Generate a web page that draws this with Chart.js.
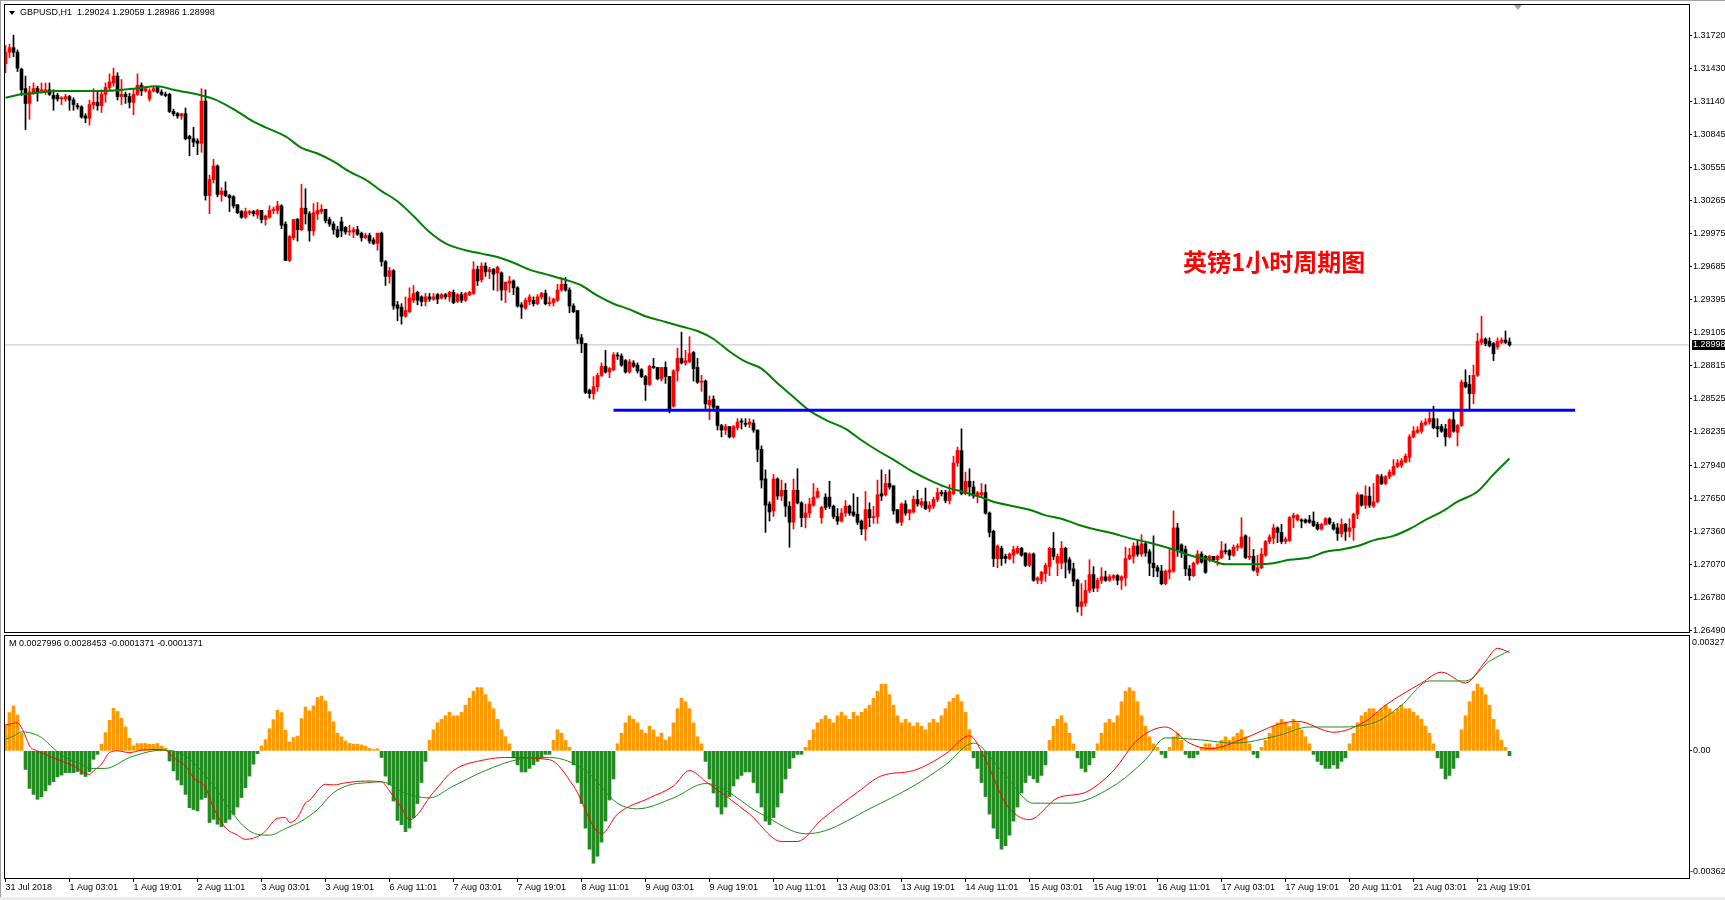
<!DOCTYPE html>
<html>
<head>
<meta charset="utf-8">
<title>GBPUSD,H1</title>
<script src="https://cdn.jsdelivr.net/npm/chart.js@4.4.1/dist/chart.umd.min.js"></script>
<style>
  html, body { margin: 0; padding: 0; background: #fff; }
  body { position: relative; width: 1725px; height: 900px; overflow: hidden; font-family: "Liberation Sans", Arial, sans-serif; }
  canvas { position: absolute; left: 0; }
  #priceChart { top: 0; }
  #macdChart { top: 634px; }
  .label { position: absolute; font-size: 9px; line-height: 11px; color: #000; white-space: pre; }
  #symbol { left: 20px; top: 7px; }
  #macdTitle { left: 9px; top: 638px; }
  #note { position: absolute; left: 1183px; top: 249px; font-family: "Noto Sans CJK SC", sans-serif; font-weight: bold; font-size: 24px; line-height: 24px; color: #ff0000; white-space: nowrap; }
  #menuArrow { position: absolute; left: 9px; top: 11px; width: 0; height: 0; border-left: 3px solid transparent; border-right: 3px solid transparent; border-top: 4px solid #000; }
  #shiftMark { position: absolute; left: 1514px; top: 5px; width: 0; height: 0; border-left: 4px solid transparent; border-right: 4px solid transparent; border-top: 5px solid #a0a0a0; }
  #edgeLeft { position: absolute; left: 0; top: 0; width: 1px; height: 900px; background: #a0a0a0; }
  #edgeTop { position: absolute; left: 0; top: 0; width: 1725px; height: 1px; background: #a0a0a0; }
  #edgeBottom { position: absolute; left: 0; top: 897px; width: 1725px; height: 3px; background: #ececec; }
</style>
</head>
<body>
<canvas id="priceChart" width="1725" height="634"></canvas>
<canvas id="macdChart" width="1725" height="266"></canvas>
<div id="edgeLeft"></div>
<div id="edgeTop"></div>
<div id="edgeBottom"></div>
<div id="menuArrow"></div>
<div id="shiftMark"></div>
<div class="label" id="symbol"></div>
<div class="label" id="macdTitle">M 0.0027996 0.0028453 -0.0001371 -0.0001371</div>
<div id="note">英镑1小时周期图</div>
<script>
// GBPUSD H1 candles, 31 Jul 2018 11:00 onwards, one entry per hour
const opens = [
  1.3147,1.3157,1.3161,1.3157,1.3142,1.3125,1.3112,1.3121,1.3125,1.3123,
  1.3123,1.3124,1.3119,1.3119,1.3116,1.3116,1.3118,1.3115,1.3110,1.3109,
  1.3101,1.3099,1.3111,1.3113,1.3110,1.3120,1.3126,1.3130,1.3136,1.3118,
  1.3120,1.3118,1.3113,1.3120,1.3128,1.3123,1.3116,1.3123,1.3126,1.3122,
  1.3120,1.3120,1.3105,1.3103,1.3101,1.3103,1.3083,1.3081,1.3079,1.3077,
  1.3114,1.3031,1.3045,1.3057,1.3032,1.3035,1.3031,1.3030,1.3023,1.3017,
  1.3012,1.3016,1.3017,1.3014,1.3018,1.3010,1.3012,1.3018,1.3018,1.3022,
  1.3006,1.2974,1.2994,1.3010,1.3001,1.3020,1.3015,1.3000,1.3015,1.3017,
  1.3019,1.3010,1.3006,1.3001,1.3008,1.3003,1.2999,1.2999,1.3001,1.2998,
  1.2994,1.2996,1.2992,1.2989,1.2998,1.2973,1.2960,1.2965,1.2935,1.2933,
  1.2925,1.2929,1.2939,1.2946,1.2942,1.2938,1.2942,1.2940,1.2944,1.2941,
  1.2944,1.2942,1.2946,1.2938,1.2944,1.2939,1.2944,1.2945,1.2966,1.2957,
  1.2969,1.2964,1.2966,1.2963,1.2963,1.2948,1.2954,1.2956,1.2950,1.2935,
  1.2932,1.2938,1.2939,1.2936,1.2942,1.2945,1.2936,1.2937,1.2939,1.2948,
  1.2953,1.2948,1.2934,1.2930,1.2906,1.2901,1.2860,1.2857,1.2863,1.2873,
  1.2881,1.2876,1.2878,1.2891,1.2890,1.2886,1.2876,1.2884,1.2882,1.2878,
  1.2872,1.2865,1.2881,1.2880,1.2870,1.2880,1.2872,1.2846,1.2877,1.2888,
  1.2884,1.2885,1.2893,1.2880,1.2867,1.2868,1.2847,1.2852,1.2846,1.2829,
  1.2825,1.2828,1.2819,1.2827,1.2833,1.2831,1.2830,1.2831,1.2825,1.2808,
  1.2782,1.2760,1.2754,1.2782,1.2767,1.2772,1.2758,1.2744,1.2772,1.2761,
  1.2748,1.2752,1.2759,1.2766,1.2748,1.2766,1.2766,1.2758,1.2749,1.2745,
  1.2752,1.2758,1.2753,1.2751,1.2745,1.2738,1.2755,1.2748,1.2749,1.2769,
  1.2768,1.2778,1.2776,1.2755,1.2744,1.2760,1.2752,1.2753,1.2764,1.2759,
  1.2762,1.2756,1.2758,1.2764,1.2770,1.2770,1.2763,1.2769,1.2796,1.2807,
  1.2769,1.2780,1.2775,1.2767,1.2768,1.2770,1.2752,1.2736,1.2712,1.2721,
  1.2714,1.2712,1.2715,1.2717,1.2721,1.2717,1.2706,1.2716,1.2693,1.2693,
  1.2699,1.2705,1.2721,1.2708,1.2708,1.2721,1.2711,1.2703,1.2693,1.2670,
  1.2673,1.2684,1.2698,1.2686,1.2693,1.2696,1.2693,1.2695,1.2697,1.2693,
  1.2695,1.2712,1.2714,1.2723,1.2716,1.2725,1.2718,1.2708,1.2704,1.2701,
  1.2690,1.2700,1.2701,1.2739,1.2724,1.2720,1.2703,1.2697,1.2708,1.2716,
  1.2714,1.2711,1.2714,1.2711,1.2713,1.2719,1.2719,1.2715,1.2722,1.2722,
  1.2732,1.2713,1.2714,1.2700,1.2704,1.2715,1.2727,1.2730,1.2739,1.2735,
  1.2727,1.2728,1.2748,1.2746,1.2746,1.2746,1.2746,1.2745,1.2742,1.2738,
  1.2742,1.2747,1.2742,1.2739,1.2734,1.2742,1.2736,1.2739,1.2751,1.2768,
  1.2759,1.2767,1.2758,1.2762,1.2784,1.2778,1.2784,1.2786,1.2793,1.2794,
  1.2797,1.2801,1.2819,1.2823,1.2824,1.2830,1.2832,1.2835,1.2828,1.2828,
  1.2826,1.2819,1.2834,1.2823,1.2829,1.2867,1.2865,1.2857,1.2873,1.2902,
  1.2905,1.2903,1.2901,1.2898,1.2902,1.2904,1.29024
];
const highs = [
  1.3163,1.3164,1.3172,1.3159,1.3143,1.3136,1.3127,1.3130,1.3127,1.3130,
  1.3130,1.3130,1.3124,1.3121,1.3118,1.3120,1.3119,1.3117,1.3112,1.3110,
  1.3103,1.3115,1.3125,1.3122,1.3124,1.3130,1.3138,1.3143,1.3139,1.3133,
  1.3122,1.3121,1.3125,1.3138,1.3130,1.3127,1.3125,1.3127,1.3127,1.3124,
  1.3122,1.3121,1.3107,1.3104,1.3103,1.3108,1.3084,1.3091,1.3081,1.3125,
  1.3124,1.3049,1.3063,1.3058,1.3038,1.3043,1.3032,1.3031,1.3023,1.3018,
  1.3020,1.3018,1.3018,1.3019,1.3018,1.3014,1.3022,1.3021,1.3026,1.3023,
  1.3008,1.2996,1.3010,1.3011,1.3041,1.3037,1.3017,1.3024,1.3025,1.3023,
  1.3019,1.3012,1.3008,1.3004,1.3012,1.3004,1.3005,1.3003,1.3004,1.2999,
  1.2998,1.2998,1.2994,1.2998,1.2999,1.2974,1.2968,1.2966,1.2938,1.2936,
  1.2942,1.2950,1.2952,1.2947,1.2943,1.2945,1.2945,1.2945,1.2945,1.2945,
  1.2945,1.2947,1.2948,1.2945,1.2946,1.2946,1.2947,1.2973,1.2969,1.2972,
  1.2972,1.2968,1.2967,1.2969,1.2964,1.2955,1.2960,1.2957,1.2951,1.2937,
  1.2941,1.2944,1.2942,1.2944,1.2946,1.2948,1.2942,1.2941,1.2953,1.2959,
  1.2959,1.2950,1.2936,1.2930,1.2909,1.2901,1.2861,1.2872,1.2875,1.2884,
  1.2895,1.2880,1.2893,1.2893,1.2892,1.2887,1.2887,1.2886,1.2884,1.2879,
  1.2873,1.2882,1.2888,1.2880,1.2880,1.2885,1.2872,1.2878,1.2897,1.2911,
  1.2895,1.2907,1.2894,1.2888,1.2873,1.2869,1.2855,1.2855,1.2846,1.2830,
  1.2830,1.2828,1.2829,1.2835,1.2835,1.2835,1.2835,1.2834,1.2825,1.2811,
  1.2790,1.2762,1.2786,1.2783,1.2781,1.2778,1.2762,1.2782,1.2791,1.2762,
  1.2760,1.2765,1.2778,1.2774,1.2758,1.2769,1.2780,1.2759,1.2756,1.2756,
  1.2763,1.2759,1.2769,1.2766,1.2746,1.2771,1.2761,1.2758,1.2781,1.2790,
  1.2786,1.2790,1.2776,1.2755,1.2761,1.2763,1.2755,1.2767,1.2772,1.2765,
  1.2774,1.2762,1.2766,1.2774,1.2772,1.2772,1.2777,1.2802,1.2810,1.2826,
  1.2788,1.2791,1.2780,1.2771,1.2778,1.2777,1.2753,1.2737,1.2724,1.2723,
  1.2716,1.2717,1.2723,1.2723,1.2722,1.2717,1.2717,1.2717,1.2696,1.2701,
  1.2708,1.2722,1.2735,1.2716,1.2727,1.2722,1.2713,1.2708,1.2694,1.2690,
  1.2693,1.2711,1.2705,1.2695,1.2704,1.2701,1.2698,1.2698,1.2698,1.2697,
  1.2722,1.2721,1.2726,1.2728,1.2733,1.2727,1.2720,1.2732,1.2706,1.2706,
  1.2702,1.2720,1.2754,1.2743,1.2725,1.2723,1.2706,1.2709,1.2719,1.2718,
  1.2715,1.2715,1.2714,1.2715,1.2727,1.2725,1.2720,1.2724,1.2725,1.2748,
  1.2733,1.2731,1.2720,1.2715,1.2721,1.2728,1.2733,1.2742,1.2740,1.2742,
  1.2731,1.2749,1.2752,1.2751,1.2747,1.2747,1.2750,1.2753,1.2744,1.2743,
  1.2748,1.2748,1.2744,1.2743,1.2747,1.2743,1.2747,1.2752,1.2770,1.2768,
  1.2776,1.2775,1.2778,1.2786,1.2786,1.2785,1.2790,1.2799,1.2799,1.2800,
  1.2804,1.2821,1.2828,1.2828,1.2833,1.2835,1.2841,1.2846,1.2835,1.2830,
  1.2830,1.2835,1.2843,1.2830,1.2869,1.2878,1.2873,1.2882,1.2910,1.2925,
  1.2906,1.2906,1.2902,1.2906,1.2906,1.2912,1.29059
];
const lows = [
  1.3139,1.3152,1.3153,1.3140,1.3119,1.3089,1.3098,1.3120,1.3114,1.3121,
  1.3120,1.3119,1.3106,1.3114,1.3111,1.3114,1.3106,1.3106,1.3107,1.3099,
  1.3095,1.3093,1.3107,1.3106,1.3104,1.3113,1.3124,1.3127,1.3115,1.3111,
  1.3112,1.3108,1.3102,1.3119,1.3119,1.3122,1.3114,1.3122,1.3121,1.3119,
  1.3118,1.3104,1.3101,1.3099,1.3098,1.3080,1.3066,1.3074,1.3067,1.3069,
  1.3027,1.3015,1.3042,1.3030,1.3026,1.3030,1.3017,1.3020,1.3015,1.3011,
  1.3011,1.3014,1.3013,1.3011,1.3007,1.3005,1.3011,1.3015,1.3015,1.3002,
  1.2974,1.2973,1.2992,1.2991,1.3000,1.3006,1.2991,1.2996,1.3010,1.3015,
  1.3007,1.3004,1.2997,1.2994,1.2995,1.2997,1.2996,1.2994,1.2996,1.2991,
  1.2993,1.2989,1.2988,1.2983,1.2969,1.2952,1.2954,1.2931,1.2921,1.2918,
  1.2924,1.2928,1.2937,1.2935,1.2934,1.2934,1.2938,1.2939,1.2936,1.2940,
  1.2940,1.2938,1.2936,1.2937,1.2937,1.2938,1.2943,1.2944,1.2952,1.2955,
  1.2960,1.2958,1.2948,1.2947,1.2939,1.2937,1.2946,1.2944,1.2933,1.2923,
  1.2931,1.2935,1.2934,1.2935,1.2940,1.2935,1.2934,1.2934,1.2938,1.2947,
  1.2947,1.2928,1.2928,1.2901,1.2893,1.2857,1.2853,1.2852,1.2859,1.2872,
  1.2875,1.2871,1.2877,1.2887,1.2881,1.2875,1.2875,1.2880,1.2875,1.2871,
  1.2851,1.2864,1.2879,1.2869,1.2868,1.2866,1.2840,1.2845,1.2868,1.2883,
  1.2882,1.2884,1.2868,1.2866,1.2859,1.2843,1.2834,1.2842,1.2825,1.2819,
  1.2821,1.2818,1.2818,1.2825,1.2826,1.2828,1.2827,1.2823,1.2797,1.2774,
  1.2735,1.2745,1.2749,1.2764,1.2763,1.2749,1.2722,1.2738,1.2760,1.2740,
  1.2739,1.2748,1.2758,1.2765,1.2743,1.2755,1.2756,1.2747,1.2742,1.2744,
  1.2749,1.2750,1.2749,1.2742,1.2733,1.2728,1.2740,1.2743,1.2743,1.2763,
  1.2767,1.2773,1.2751,1.2743,1.2741,1.2750,1.2746,1.2752,1.2758,1.2757,
  1.2755,1.2753,1.2756,1.2762,1.2767,1.2761,1.2760,1.2768,1.2793,1.2768,
  1.2768,1.2767,1.2765,1.2761,1.2766,1.2751,1.2731,1.2705,1.2704,1.2706,
  1.2708,1.2711,1.2708,1.2716,1.2714,1.2705,1.2705,1.2692,1.2690,1.2690,
  1.2692,1.2697,1.2711,1.2697,1.2703,1.2695,1.2699,1.2688,1.2665,1.2662,
  1.2670,1.2682,1.2683,1.2683,1.2690,1.2692,1.2692,1.2693,1.2689,1.2685,
  1.2688,1.2711,1.2708,1.2714,1.2714,1.2714,1.2697,1.2696,1.2696,1.2689,
  1.2689,1.2694,1.2700,1.2714,1.2713,1.2697,1.2693,1.2696,1.2707,1.2708,
  1.2699,1.2709,1.2710,1.2706,1.2712,1.2716,1.2711,1.2714,1.2719,1.2721,
  1.2712,1.2711,1.2701,1.2697,1.2703,1.2714,1.2725,1.2725,1.2726,1.2725,
  1.2725,1.2727,1.2739,1.2745,1.2739,1.2743,1.2743,1.2740,1.2737,1.2737,
  1.2742,1.2742,1.2737,1.2728,1.2731,1.2728,1.2731,1.2728,1.2747,1.2758,
  1.2756,1.2757,1.2757,1.2761,1.2777,1.2777,1.2782,1.2785,1.2792,1.2792,
  1.2796,1.2797,1.2818,1.2822,1.2822,1.2829,1.2830,1.2826,1.2819,1.2823,
  1.2811,1.2818,1.2823,1.2811,1.2828,1.2862,1.2843,1.2848,1.2872,1.2900,
  1.2899,1.2898,1.2886,1.2896,1.2901,1.2901,1.28986
];
const closes = [
  1.3157,1.3161,1.3157,1.3143,1.3124,1.3112,1.3122,1.3125,1.3122,1.3124,
  1.3124,1.3120,1.3116,1.3116,1.3117,1.3118,1.3115,1.3111,1.3109,1.3100,
  1.3099,1.3111,1.3113,1.3110,1.3120,1.3126,1.3131,1.3136,1.3118,1.3120,
  1.3118,1.3113,1.3120,1.3128,1.3123,1.3125,1.3123,1.3125,1.3122,1.3120,
  1.3119,1.3105,1.3103,1.3101,1.3103,1.3081,1.3081,1.3078,1.3077,1.3114,
  1.3031,1.3045,1.3057,1.3032,1.3035,1.3031,1.3029,1.3022,1.3016,1.3012,
  1.3017,1.3017,1.3015,1.3018,1.3010,1.3013,1.3018,1.3019,1.3022,1.3005,
  1.2974,1.2995,1.3010,1.3001,1.3020,1.3015,1.3000,1.3016,1.3018,1.3019,
  1.3009,1.3006,1.3001,1.2995,1.3000,1.2999,1.3000,1.3001,1.2997,1.2994,
  1.2996,1.2991,1.2989,1.2998,1.2973,1.2960,1.2965,1.2934,1.2932,1.2925,
  1.2930,1.2941,1.2945,1.2939,1.2938,1.2942,1.2940,1.2942,1.2940,1.2944,
  1.2942,1.2946,1.2937,1.2944,1.2939,1.2945,1.2946,1.2966,1.2956,1.2969,
  1.2964,1.2966,1.2962,1.2968,1.2948,1.2955,1.2956,1.2950,1.2934,1.2933,
  1.2939,1.2942,1.2936,1.2942,1.2945,1.2936,1.2937,1.2940,1.2948,1.2953,
  1.2948,1.2934,1.2929,1.2905,1.2901,1.2858,1.2857,1.2863,1.2873,1.2881,
  1.2876,1.2879,1.2891,1.2890,1.2882,1.2876,1.2885,1.2881,1.2877,1.2872,
  1.2865,1.2881,1.2880,1.2870,1.2880,1.2872,1.2843,1.2877,1.2888,1.2884,
  1.2886,1.2892,1.2879,1.2867,1.2868,1.2848,1.2851,1.2845,1.2829,1.2825,
  1.2828,1.2819,1.2828,1.2832,1.2832,1.2830,1.2832,1.2825,1.2808,1.2781,
  1.2759,1.2753,1.2782,1.2767,1.2772,1.2758,1.2744,1.2772,1.2761,1.2748,
  1.2752,1.2760,1.2766,1.2771,1.2757,1.2757,1.2758,1.2749,1.2745,1.2752,
  1.2758,1.2752,1.2750,1.2744,1.2738,1.2755,1.2748,1.2749,1.2768,1.2767,
  1.2778,1.2775,1.2754,1.2744,1.2760,1.2752,1.2755,1.2764,1.2760,1.2762,
  1.2756,1.2759,1.2764,1.2770,1.2769,1.2763,1.2771,1.2796,1.2807,1.2769,
  1.2780,1.2775,1.2767,1.2770,1.2770,1.2752,1.2735,1.2712,1.2723,1.2712,
  1.2712,1.2716,1.2720,1.2721,1.2715,1.2706,1.2716,1.2693,1.2695,1.2700,
  1.2706,1.2721,1.2714,1.2714,1.2721,1.2709,1.2702,1.2692,1.2670,1.2674,
  1.2684,1.2698,1.2686,1.2693,1.2696,1.2693,1.2696,1.2697,1.2693,1.2696,
  1.2712,1.2715,1.2723,1.2716,1.2725,1.2717,1.2708,1.2704,1.2701,1.2690,
  1.2701,1.2702,1.2739,1.2720,1.2717,1.2703,1.2697,1.2708,1.2716,1.2709,
  1.2700,1.2714,1.2711,1.2714,1.2719,1.2718,1.2715,1.2722,1.2723,1.2731,
  1.2713,1.2714,1.2702,1.2704,1.2716,1.2727,1.2731,1.2739,1.2735,1.2727,
  1.2729,1.2748,1.2750,1.2750,1.2745,1.2744,1.2744,1.2741,1.2738,1.2742,
  1.2747,1.2743,1.2738,1.2734,1.2742,1.2736,1.2739,1.2751,1.2768,1.2759,
  1.2767,1.2759,1.2762,1.2785,1.2778,1.2784,1.2788,1.2793,1.2796,1.2798,
  1.2802,1.2819,1.2824,1.2825,1.2831,1.2832,1.2835,1.2827,1.2826,1.2824,
  1.2819,1.2834,1.2824,1.2829,1.2867,1.2863,1.2857,1.2873,1.2903,1.2905,
  1.2901,1.2899,1.2892,1.2903,1.2904,1.2902,1.28998
];

// moving average (green), read at these bars
const maBars = [0,4,7,13,24,32,38,42,45,49, 52,57,62,65,70,74,78,82,86,90,
  94,98,102,106,110,115,119,123,127,131, 135,140,144,148,152,156,160,165,169,173,
  177,181,185,189,193,197,201,205,210,214, 218,222,226,231,235,239,243,247,252,256,
  260,264,268,272,277,281,286,292,296,301, 305,309,313,317,321,326,330,334,338,342,
  347,351,355,359,363,368,372,376];
const maValues = [1.3117,1.3120,1.3121,1.3123,1.3123,1.3125,1.3127,1.3124,1.3122,1.3119,
  1.3116,1.3107,1.3096,1.3091,1.3083,1.3073,1.3068,1.3061,1.3052,1.3045,
  1.3035,1.3026,1.3013,1.2999,1.2989,1.2983,1.2980,1.2977,1.2972,1.2966,
  1.2962,1.2957,1.2952,1.2943,1.2936,1.2931,1.2925,1.2920,1.2916,1.2912,
  1.2905,1.2894,1.2885,1.2879,1.2866,1.2854,1.2842,1.2834,1.2826,1.2816,
  1.2807,1.2799,1.2790,1.2781,1.2775,1.2771,1.2767,1.2762,1.2758,1.2755,
  1.2750,1.2747,1.2742,1.2738,1.2734,1.2730,1.2726,1.2720,1.2715,1.2711,
  1.2707,1.2707,1.2707,1.2708,1.2711,1.2713,1.2718,1.2720,1.2723,1.2728,
  1.2732,1.2738,1.2746,1.2753,1.2762,1.2771,1.2786,1.2800];

// blue horizontal level
const levelPrice = 1.28424;
const levelFromBar = 152;
const levelToBar = 392.4;

// MACD histogram, one value per bar
const macdHist = [
  0.00074,0.00109,0.00128,0.00102,0.0005,-0.00053,-0.00107,-0.00124,-0.00138,-0.00131,
  -0.00114,-0.00097,-0.00088,-0.00074,-0.00069,-0.00062,-0.00062,-0.00062,-0.00059,-0.00067,
  -0.00073,-0.00059,-0.00024,-0.0001,0.00019,0.00052,0.00087,0.00121,0.00112,0.00093,
  0.00068,0.00036,0.00014,0.00021,0.00021,0.00021,0.00019,0.00019,0.00021,0.00014,
  0.00007,-0.00029,-0.00057,-0.00083,-0.00097,-0.00124,-0.00162,-0.00167,-0.00171,-0.00138,
  -0.00133,-0.00204,-0.00195,-0.00209,-0.00216,-0.00204,-0.00195,-0.00181,-0.0016,-0.00133,
  -0.00105,-0.00072,-0.00038,-0.00008,0.00014,0.00032,0.00063,0.00089,0.00116,0.00109,
  0.00059,0.00025,0.00038,0.00042,0.00092,0.00125,0.00114,0.00128,0.00152,0.00156,
  0.00142,0.00112,0.00083,0.0005,0.0004,0.00028,0.00021,0.00019,0.00019,0.00017,
  0.00013,0.00007,0.00004,0.00006,-0.00019,-0.00072,-0.00097,-0.00143,-0.00198,-0.0021,
  -0.0023,-0.0022,-0.0019,-0.0015,-0.0009,-0.0003,0.0003,0.0006,0.0008,0.0009,
  0.001,0.0011,0.001,0.001,0.0011,0.0013,0.0015,0.0017,0.0018,0.0018,
  0.0016,0.0014,0.0012,0.0009,0.0006,0.0004,0.0002,-0.0002,-0.0004,-0.0006,
  -0.0006,-0.0005,-0.0004,-0.0003,-0.0002,-0.0001,-0.0001,0.0003,0.0006,0.0005,
  0.0003,0.0001,-0.0004,-0.0009,-0.0015,-0.0022,-0.0028,-0.0032,-0.003,-0.0026,
  -0.002,-0.0014,-0.0008,0.0002,0.0005,0.0008,0.001,0.0009,0.0008,0.0006,
  0.0005,0.0007,0.0006,0.0004,0.0005,0.0003,0.0004,0.0008,0.0012,0.0015,
  0.0014,0.0012,0.0008,0.0004,0.0002,-0.0003,-0.0008,-0.0012,-0.0016,-0.0018,
  -0.0016,-0.0013,-0.001,-0.0008,-0.0007,-0.0006,-0.0006,-0.0009,-0.0012,-0.0016,
  -0.002,-0.0021,-0.0019,-0.0016,-0.0012,-0.0008,-0.0005,-0.0002,-0.0001,-0.0001,
  0.0001,0.0003,0.0006,0.0008,0.0009,0.001,0.0009,0.0008,0.001,0.0011,
  0.001,0.0009,0.0011,0.001,0.0011,0.0012,0.0013,0.0015,0.0017,0.0019,
  0.0019,0.0016,0.0013,0.001,0.0008,0.0009,0.0008,0.0007,0.0008,0.0007,
  0.0006,0.0008,0.0009,0.0008,0.001,0.0012,0.0014,0.0015,0.0016,0.0014,
  0.0011,0.0006,-0.0002,-0.0005,-0.0009,-0.0013,-0.0018,-0.0022,-0.0025,-0.0028,
  -0.0027,-0.0024,-0.002,-0.0016,-0.0012,-0.0009,-0.0007,-0.0008,-0.0009,-0.0007,
  -0.0004,0.0003,0.0007,0.0009,0.001,0.0008,0.0005,0.0002,-0.0002,-0.0005,
  -0.0006,-0.0004,-0.0002,0.0002,0.0005,0.0008,0.0009,0.0008,0.001,0.0014,
  0.0017,0.0018,0.0017,0.0014,0.001,0.0007,0.0004,0.0002,0.0001,-0.0001,
  -0.0002,0.0001,0.0004,0.0005,0.0003,-0.0001,-0.0002,-0.0002,-0.0001,0.0001,
  0.0002,0.0002,0.0001,0.0002,0.0003,0.0004,0.0003,0.0004,0.0005,0.0006,
  0.0004,0.0002,-0.0001,-0.0002,0.0001,0.0003,0.0005,0.0007,0.0008,0.0009,
  0.0008,0.0007,0.0009,0.0008,0.0006,0.0004,0.0002,-0.0001,-0.0003,-0.0004,
  -0.0005,-0.0005,-0.0004,-0.0005,-0.0003,-0.0002,0.0002,0.0005,0.0008,0.001,
  0.0011,0.0012,0.0012,0.0011,0.0012,0.0013,0.0012,0.0011,0.0012,0.0013,
  0.0012,0.0012,0.0011,0.001,0.0009,0.0007,0.0005,0.0002,-0.0002,-0.0005,
  -0.0008,-0.0007,-0.0005,-0.0002,0.0006,0.001,0.0014,0.0017,0.0019,0.0018,
  0.0016,0.0013,0.0009,0.0006,0.0003,0.0001,-0.000137
];

// MACD lines (red main, green signal), read at these bars
const macdMainBars = [0,1,3,4,5,6,8,11,14,17, 21,22,24,26,28,31,34,38,40,42,
  45,47,50,52,55,58,60,64,65,68, 70,71,73,75,76,80,82,85,90,94,
  96,99,101,107,112,120,125,136,142,149, 153,161,167,171,175,186,194,198,204,213,
  219,227,235,241,245,250,256,263,270,277, 283,290,296,301,310,318,323,332,340,345,
  354,359,365,370,373,376];
const macdMainValues = [0.00074,0.00076,0.0008,0.00066,0.00042,0.00014,0,-0.00015,-0.00029,-0.00043,
  -0.00067,-0.00057,-0.00038,-0.00005,0,-0.00005,0.00002,0.00004,0.00002,-0.00019,
  -0.00043,-0.00076,-0.00105,-0.00162,-0.00219,-0.0024,-0.00252,-0.00238,-0.00228,-0.00192,
  -0.0019,-0.00204,-0.0019,-0.00148,-0.00141,-0.00095,-0.00097,-0.00091,-0.00086,-0.00088,
  -0.00114,-0.00162,-0.00196,-0.00118,-0.00056,-0.00025,-0.00019,-0.00025,-0.001,-0.00236,
  -0.0018,-0.00134,-0.001,-0.00056,-0.00087,-0.0018,-0.00258,-0.00258,-0.00196,-0.00118,
  -0.00071,-0.00056,-0.00009,0.00043,-0.00025,-0.00149,-0.00196,-0.00134,-0.00118,-0.00056,
  0.00031,0.00068,0.00022,0.00006,0.00037,0.00075,0.00084,0.00053,0.00084,0.0013,
  0.00193,0.00224,0.00193,0.00255,0.00292,0.0028];
const macdSignalBars = [0,2,4,6,9,12,15,19,21,25, 28,30,34,37,40,45,49,53,57,60,
  63,66,70,74,78,82,86,90,94,96, 99,106,112,120,128,136,145,153,158,167,
  175,189,200,205,216,227,235,242,249,257, 266,277,285,290,299,307,318,326,334,343,
  349,356,365,371,376];
const macdSignalValues = [0.00033,0.00042,0.00054,0.00052,0.00038,0.00007,-0.00019,-0.00038,-0.0005,-0.0005,
  -0.00038,-0.00024,-0.00008,0,0.00002,-0.00015,-0.00057,-0.00114,-0.00181,-0.00219,
  -0.00238,-0.0024,-0.00221,-0.002,-0.00167,-0.00119,-0.00097,-0.00091,-0.00088,-0.00095,
  -0.00116,-0.00134,-0.001,-0.00056,-0.00025,-0.00019,-0.00056,-0.00149,-0.00165,-0.00134,
  -0.00093,-0.0018,-0.00236,-0.00227,-0.00165,-0.001,-0.0004,0.00022,-0.00056,-0.00149,
  -0.00149,-0.001,-0.00025,0.00037,0.00031,0.00022,0.00043,0.00068,0.00068,0.00084,
  0.0013,0.00199,0.00199,0.00255,0.00285];

// axis labels
const priceTicks = [1.31720,1.31430,1.31140,1.30845,1.30555,1.30265,1.29975,1.29685,1.29395,1.29105,
  1.28815,1.28525,1.28235,1.27940,1.27650,1.27360,1.27070,1.26780,1.26490];
const timeTickBars = [0,16,32,48,64,80,96,112,128,144,160,176,192,208,224,240,256,272,288,304,320,336,352,368];
const timeLabels = ["31 Jul 2018","1 Aug 03:01","1 Aug 19:01","2 Aug 11:01","3 Aug 03:01","3 Aug 19:01",
  "6 Aug 11:01","7 Aug 03:01","7 Aug 19:01","8 Aug 11:01","9 Aug 03:01","9 Aug 19:01",
  "10 Aug 11:01","13 Aug 03:01","13 Aug 19:01","14 Aug 11:01","15 Aug 03:01","15 Aug 19:01",
  "16 Aug 11:01","17 Aug 03:01","17 Aug 19:01","20 Aug 11:01","21 Aug 03:01","21 Aug 19:01"];

const FONT = '"Liberation Sans", Arial, sans-serif';
Chart.defaults.font.family = FONT;
Chart.defaults.font.size = 9;
Chart.defaults.color = '#000';

const X_MIN = -0.125, X_MAX = 420.875;
const Y_MIN = 1.26475, Y_MAX = 1.31985;
const MACD_MIN = -0.00362, MACD_MAX = 0.00327;
const lastClose = closes[closes.length - 1];
const last = closes.length - 1;

document.getElementById('symbol').textContent =
  'GBPUSD,H1  ' + [opens[last], highs[last], lows[last], closes[last]].map(v => v.toFixed(5)).join(' ');

const bars = closes.map((_, i) => i);
const candleColors = bars.map(i => closes[i] > opens[i] ? '#ff0000' : '#000000');

const framePlugin = {
  id: 'frame',
  afterDraw(chart) {
    const { ctx, chartArea: a } = chart;
    ctx.save();
    ctx.strokeStyle = '#000';
    ctx.lineWidth = 1;
    ctx.strokeRect(a.left - 0.5, a.top - 0.5, a.right - a.left + 1, a.bottom - a.top + 1);
    ctx.restore();
  }
};

const priceTagPlugin = {
  id: 'priceTag',
  afterDraw(chart) {
    const { ctx, chartArea: a } = chart;
    const y = Math.round(chart.scales.y.getPixelForValue(lastClose));
    ctx.save();
    ctx.fillStyle = '#000';
    ctx.fillRect(a.right + 3, y - 5, 40, 10);
    ctx.fillStyle = '#fff';
    ctx.font = '9px ' + FONT;
    ctx.textBaseline = 'middle';
    ctx.fillText(lastClose.toFixed(5), a.right + 4, y);
    ctx.restore();
  }
};

const macdScalePlugin = {
  id: 'macdScale',
  afterDraw(chart) {
    const { ctx, chartArea: a } = chart;
    ctx.save();
    ctx.fillStyle = '#000';
    ctx.font = '9px ' + FONT;
    ctx.textBaseline = 'middle';
    ctx.fillText(MACD_MAX.toFixed(5), a.right + 3, a.top + 7);
    ctx.fillText(MACD_MIN.toFixed(5), a.right + 1, a.bottom - 6);
    ctx.restore();
  }
};

const hideEdgePadding = s => { s.paddingTop = 0; s.paddingBottom = 0; s.paddingLeft = 0; s.paddingRight = 0; };

new Chart(document.getElementById('priceChart'), {
  type: 'bar',
  data: {
    datasets: [
      { type: 'line', data: [{ x: X_MIN, y: lastClose }, { x: X_MAX, y: lastClose }],
        borderColor: '#c0c0c0', borderWidth: 1, pointRadius: 0, order: 5 },
      { data: bars.map(i => ({ x: i, y: [lows[i], highs[i]] })),
        backgroundColor: candleColors, barThickness: 1, grouped: false, order: 4 },
      { data: bars.map(i => ({ x: i, y: [opens[i], closes[i]] })),
        backgroundColor: candleColors, barThickness: 3, grouped: false, minBarLength: 1, order: 3 },
      { type: 'line', data: maBars.map((b, k) => ({ x: b, y: maValues[k] })),
        borderColor: '#008000', borderWidth: 2, pointRadius: 0, cubicInterpolationMode: 'monotone', order: 2 },
      { type: 'line', data: [{ x: levelFromBar, y: levelPrice }, { x: levelToBar, y: levelPrice }],
        borderColor: '#0000ff', borderWidth: 3, pointRadius: 0, order: 1 }
    ]
  },
  options: {
    responsive: false,
    animation: false,
    events: [],
    layout: { padding: { left: 5, top: 5, right: 0, bottom: 2 } },
    plugins: { legend: { display: false }, tooltip: { enabled: false } },
    scales: {
      x: { type: 'linear', display: false, min: X_MIN, max: X_MAX, offset: false, grid: { offset: false } },
      y: {
        type: 'linear', position: 'right', min: Y_MIN, max: Y_MAX,
        afterBuildTicks: s => { s.ticks = priceTicks.map(v => ({ value: v })); },
        afterFit: s => { s.width = 36; hideEdgePadding(s); },
        ticks: { callback: v => v.toFixed(5), padding: 1, autoSkip: false, color: '#000' },
        grid: { drawOnChartArea: false, drawTicks: true, tickLength: 3, color: '#000' },
        border: { display: false }
      }
    }
  },
  plugins: [framePlugin, priceTagPlugin]
});

new Chart(document.getElementById('macdChart'), {
  type: 'bar',
  data: {
    datasets: [
      { data: bars.map(i => ({ x: i, y: macdHist[i] })),
        backgroundColor: bars.map(i => macdHist[i] >= 0 ? '#ff9900' : '#228b22'),
        barThickness: 3, grouped: false, order: 3 },
      { type: 'line', data: macdMainBars.map((b, k) => ({ x: b, y: macdMainValues[k] })),
        borderColor: '#ff0000', borderWidth: 1, pointRadius: 0, cubicInterpolationMode: 'monotone', order: 2 },
      { type: 'line', data: macdSignalBars.map((b, k) => ({ x: b, y: macdSignalValues[k] })),
        borderColor: '#1e8c1e', borderWidth: 1, pointRadius: 0, cubicInterpolationMode: 'monotone', order: 1 }
    ]
  },
  options: {
    responsive: false,
    animation: false,
    events: [],
    layout: { padding: { left: 5, top: 2, right: 0, bottom: 0 } },
    plugins: { legend: { display: false }, tooltip: { enabled: false } },
    scales: {
      x: {
        type: 'linear', position: 'bottom', min: X_MIN, max: X_MAX, offset: false,
        afterBuildTicks: s => { s.ticks = timeTickBars.map(v => ({ value: v })); },
        afterFit: s => { s.height = 22; hideEdgePadding(s); },
        ticks: { callback: v => timeLabels[timeTickBars.indexOf(v)], align: 'start', maxRotation: 0, minRotation: 0, autoSkip: false, padding: 0, color: '#000' },
        grid: { drawOnChartArea: false, drawTicks: true, tickLength: 4, color: '#000', offset: false },
        border: { display: false }
      },
      y: {
        type: 'linear', position: 'right', min: MACD_MIN, max: MACD_MAX,
        afterBuildTicks: s => { s.ticks = [{ value: 0 }]; },
        afterFit: s => { s.width = 36; hideEdgePadding(s); },
        ticks: { callback: v => v.toFixed(2), padding: 1, color: '#000' },
        grid: { drawOnChartArea: false, drawTicks: true, tickLength: 3, color: '#000' },
        border: { display: false }
      }
    }
  },
  plugins: [framePlugin, macdScalePlugin]
});
</script>
</body>
</html>
